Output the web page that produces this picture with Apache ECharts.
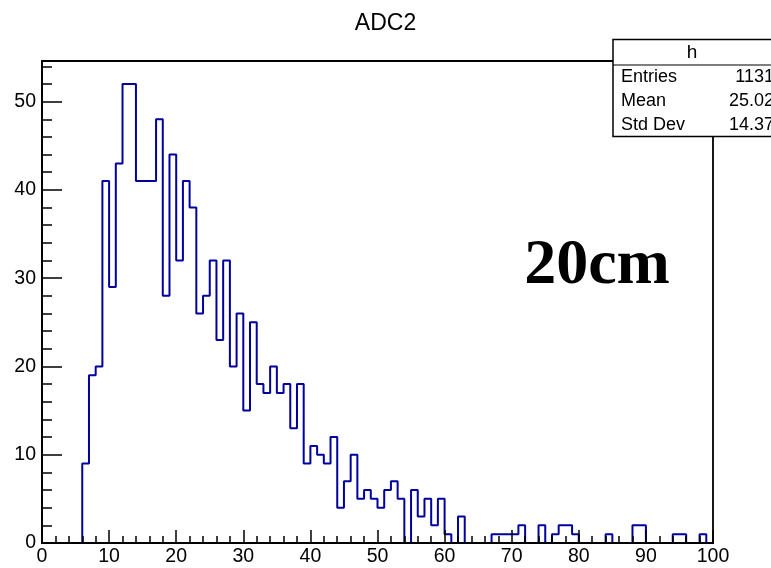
<!DOCTYPE html>
<html>
<head>
<meta charset="utf-8">
<script src="https://cdn.jsdelivr.net/npm/echarts@6/dist/echarts.min.js"></script>
<style>
html,body{margin:0;padding:0;background:#fff;}
#c{width:771px;height:568px;}
</style>
</head>
<body>
<div id="c"></div>
<script>
// Bin counts for bins [i, i+1), i = 0..99
const counts = [
  0,0,0,0,0,0,9,19,20,41,
  29,43,52,52,41,41,41,48,28,44,
  32,41,38,26,28,32,23,32,20,26,
  15,25,18,17,20,17,18,13,18,9,
  11,10,9,12,4,7,10,5,6,5,
  4,6,7,5,0,6,3,5,2,5,
  1,0,3,0,0,0,0,1,1,1,
  1,2,0,0,2,0,1,2,2,1,
  0,0,0,0,1,0,0,0,2,2,
  0,0,0,0,1,1,0,0,1,0
];
const xTickLabels = [0,10,20,30,40,50,60,70,80,90,100];
const yTickLabels = [0,10,20,30,40,50];
const yMinorTicks = [2,4,6,8,12,14,16,18,22,24,26,28,32,34,36,38,42,44,46,48,52,54];
const statLabels = ['Entries','Mean','Std Dev'];
const statValues = ['1131','25.02','14.37'];
const histName = 'h';
const titleText = 'ADC2';
const noteText = '20cm';

const yMax = 54.6;
const stepData = counts.map((v, i) => [i, v]);
stepData.push([counts.length, counts[counts.length - 1]]);

const font = 'Liberation Sans, Arial, Helvetica, sans-serif';
const chart = echarts.init(document.getElementById('c'), null, {renderer: 'canvas'});

const statGraphics = [];
statGraphics.push({
  type: 'rect', z: 100,
  shape: {x: 613, y: 39.5, width: 200, height: 97},
  style: {fill: '#fff', stroke: '#000', lineWidth: 1.5}
});
statGraphics.push({
  type: 'line', z: 101,
  shape: {x1: 613, y1: 65, x2: 771, y2: 65},
  style: {stroke: '#000', lineWidth: 1.2}
});
statGraphics.push({
  type: 'text', z: 102, x: 692, y: 53,
  style: {text: histName, fontSize: 19, fontFamily: font, fill: '#000', align: 'center', verticalAlign: 'middle'}
});
statLabels.forEach((lab, k) => {
  const y = 77 + k * 24;
  statGraphics.push({
    type: 'text', z: 102, x: 621, y: y,
    style: {text: lab, fontSize: 18, fontFamily: font, fill: '#000', align: 'left', verticalAlign: 'middle'}
  });
  statGraphics.push({
    type: 'text', z: 102, x: 774, y: y,
    style: {text: statValues[k], fontSize: 18, fontFamily: font, fill: '#000', align: 'right', verticalAlign: 'middle'}
  });
});

const option = {
  backgroundColor: '#fff',
  animation: false,
  title: {
    text: titleText, left: 'center', top: 7,
    textStyle: {fontFamily: font, fontSize: 23, fontWeight: 'normal', color: '#000'}
  },
  grid: {
    left: 42, right: 58, top: 61, bottom: 25,
    show: true, borderColor: '#000', borderWidth: 1.8, backgroundColor: 'transparent'
  },
  xAxis: [{
    type: 'value', min: 0, max: 100, interval: 10, z: 5,
    axisLine: {show: true, onZero: false, lineStyle: {color: '#000', width: 2}},
    axisTick: {show: true, inside: true, length: 13, lineStyle: {color: '#000', width: 1.5}},
    minorTick: {show: true, splitNumber: 5, length: 7, lineStyle: {color: '#000', width: 1.5}},
    splitLine: {show: false},
    axisLabel: {
      show: true, margin: 4, fontSize: 19.5, fontFamily: font, color: '#000',
      customValues: xTickLabels, formatter: v => String(v)
    }
  }],
  yAxis: [{
    type: 'value', min: 0, max: yMax, z: 5,
    axisLine: {show: true, onZero: false, lineStyle: {color: '#000', width: 2}},
    axisTick: {show: true, inside: true, length: 20, customValues: yTickLabels, lineStyle: {color: '#000', width: 1.5}},
    splitLine: {show: false},
    axisLabel: {
      show: true, margin: 6, fontSize: 19.5, fontFamily: font, color: '#000',
      customValues: yTickLabels, formatter: v => String(v)
    }
  }, {
    type: 'value', min: 0, max: yMax, position: 'left', z: 5,
    axisLine: {show: false},
    axisTick: {show: true, inside: true, length: 10, customValues: yMinorTicks, lineStyle: {color: '#000', width: 1.5}},
    splitLine: {show: false},
    axisLabel: {show: false}
  }],
  graphic: [{
    type: 'text', z: 50, x: 597, y: 266,
    style: {text: noteText, fontSize: 64, fontWeight: 'bold', fontFamily: 'Liberation Serif, Times New Roman, serif', fill: '#000', align: 'center', verticalAlign: 'middle'}
  }].concat(statGraphics),
  series: [{
    type: 'line', xAxisIndex: 0, yAxisIndex: 0,
    data: stepData, step: 'end', symbol: 'none',
    lineStyle: {color: '#00009c', width: 2},
    clip: false, z: 2
  }]
};
chart.setOption(option);
</script>
</body>
</html>
